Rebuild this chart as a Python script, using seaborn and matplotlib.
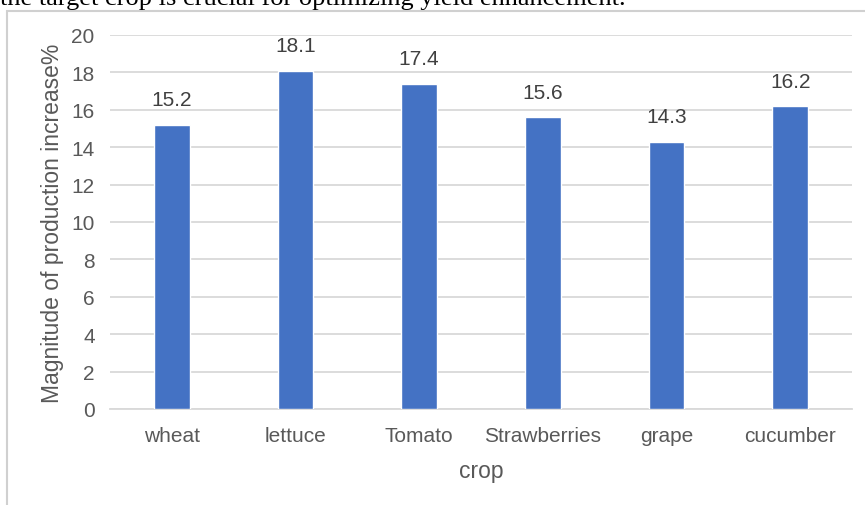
import matplotlib
matplotlib.use("Agg")
import matplotlib.pyplot as plt
import seaborn as sns
import pandas as pd
from matplotlib.patches import Rectangle

# Yield increase by crop
crops = ["wheat", "lettuce", "Tomato", "Strawberries", "grape", "cucumber"]
increase = [15.2, 18.1, 17.4, 15.6, 14.3, 16.2]
y_ticks = [0, 2, 4, 6, 8, 10, 12, 14, 16, 18, 20]

df = pd.DataFrame({"crop": crops, "increase": increase})

sns.set_theme(style="white")
plt.rcParams["font.family"] = ["Liberation Sans", "DejaVu Sans"]

W, H = 865, 506
fig = plt.figure(figsize=(W / 100, H / 100), dpi=100)
fig.patch.set_facecolor("white")

# Document text line above the chart frame (partly cut off at the top edge)
fig.text(0.0, 1 - 5 / H, "the target crop is crucial for optimizing yield enhancement.",
         family=["Liberation Serif", "DejaVu Serif"], fontsize=19, color="black",
         ha="left", va="baseline")

# Chart frame
fig.patches.append(Rectangle((7.5 / W, -0.05), 1.2, 1 - 11.5 / H + 0.05,
                             transform=fig.transFigure, facecolor="none",
                             edgecolor="#d0d0d0", linewidth=1.5, zorder=0))

ax = fig.add_axes([110 / W, 1 - 410 / H, 742 / W, 374 / H])
ax.set_facecolor("none")

bar_color = "#4472C4"
sns.barplot(data=df, x="crop", y="increase", color=bar_color, width=0.29,
            saturation=1, ax=ax, zorder=3)

ax.set_ylim(0, 20)
ax.set_yticks(y_ticks)
ax.set_xlim(-0.5, len(crops) - 0.5)
ax.grid(axis="y", color="#d9d9d9", linewidth=1.3, zorder=0)
ax.set_axisbelow(True)
for s in ["top", "right", "left"]:
    ax.spines[s].set_visible(False)
ax.spines["bottom"].set_color("#d9d9d9")
ax.spines["bottom"].set_linewidth(1.3)

text_color = "#595959"
ax.tick_params(axis="both", length=0, labelsize=15, colors=text_color)
ax.tick_params(axis="y", pad=11)
ax.tick_params(axis="x", pad=12)

ax.set_xlabel("crop", fontsize=16.5, color=text_color, labelpad=10)
ax.set_ylabel("Magnitude of production increase%", fontsize=16.5, color=text_color,
              labelpad=5)

for p, v in zip(ax.patches, increase):
    ax.annotate(f"{v:.1f}", (p.get_x() + p.get_width() / 2, p.get_height()),
                xytext=(0, 11), textcoords="offset points", ha="center",
                va="bottom", fontsize=15, color="#404040")

fig.savefig("out.png", dpi=100, facecolor="white")
